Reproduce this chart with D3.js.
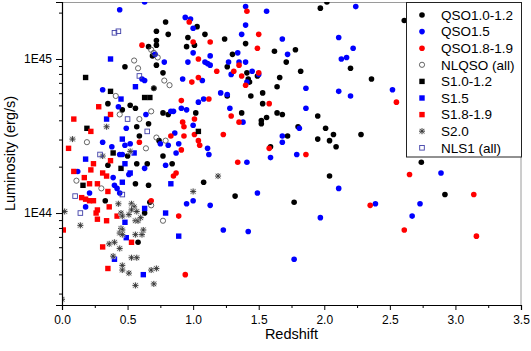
<!DOCTYPE html>
<html>
<head>
<meta charset="utf-8">
<script src="https://cdn.jsdelivr.net/npm/d3@7"></script>
<style>
  body { margin: 0; background: #fff; }
  text { font-family: Arial, "Liberation Sans", sans-serif; }
</style>
</head>
<body>
<svg id="chart" width="531" height="351"></svg>
<script>
// each point: [redshift, log10 luminosity in erg/s]
const qso10 = [
  [0.79,45.24],[0.72,45.18],[0.81,45.16],[0.72,45.12],[0.66,45.08],[0.72,45.09],[0.69,45.02],[0.48,44.95],
  [0.72,44.96],[0.77,44.91],[0.70,44.81],[0.35,44.71],[0.52,44.70],[0.56,44.68],[0.46,44.67],[0.77,44.65],
  [0.81,44.64],[0.57,44.56],[0.66,44.58],[0.59,44.50],[1.03,45.21],[1.09,45.16],[0.96,45.14],[1.24,45.13],
  [1.01,45.09],[0.95,45.08],[1.40,45.10],[1.30,45.03],[1.26,44.95],[1.41,44.91],[1.49,44.89],[1.42,44.87],
  [1.43,44.85],[1.26,44.76],[1.44,44.76],[1.02,44.65],[1.37,44.65],[0.74,44.47],[2.02,45.37],[1.97,45.33],
  [1.62,45.05],[1.78,45.06],[1.71,44.98],[2.20,44.94],[1.82,44.92],[2.36,44.87],[1.66,44.88],[1.64,44.82],
  [1.53,44.78],[1.53,44.71],[1.64,44.65],[1.68,44.64],[1.56,44.62],[1.52,44.60],[1.52,44.58],[1.95,44.63],
  [1.80,44.56],[2.01,44.55],[2.07,44.51],[1.95,44.48],[2.04,44.47],[2.09,44.43],[2.28,44.51],[1.72,44.50],
  [1.59,44.43],[2.61,45.25],[2.74,44.33],[2.92,44.12],[0.50,44.37],[0.77,44.37],[0.35,44.31],[0.57,44.32],
  [0.65,44.32],[0.84,44.32],[0.56,44.19],[0.66,44.18],[1.08,44.20],[0.33,44.08],[0.67,44.07],[0.63,44.00],
  [0.58,43.81],[2.04,44.24],[1.32,44.11],[1.77,44.07]
];
const qso15 = [
  [0.44,45.32],[0.63,45.37],[0.31,44.80],[0.61,44.87],[0.63,44.86],[0.49,44.55],[0.64,44.64],[0.43,44.69],
  [0.31,44.46],[0.38,44.43],[1.40,45.34],[0.94,45.27],[0.98,45.26],[1.00,45.20],[1.40,45.22],[1.37,45.16],
  [0.71,45.03],[1.00,45.04],[1.13,45.02],[1.34,45.04],[0.96,44.98],[0.78,44.98],[1.09,44.98],[1.11,44.97],
  [1.13,44.96],[1.27,44.98],[1.35,44.98],[1.40,44.98],[1.29,44.90],[1.45,44.92],[0.92,44.87],[1.07,44.86],
  [1.41,44.85],[1.21,44.78],[1.26,44.77],[1.04,44.72],[1.08,44.74],[1.28,44.68],[0.91,44.68],[0.95,44.67],
  [0.83,44.66],[0.85,44.66],[1.38,44.59],[1.00,44.57],[0.86,44.52],[0.75,44.45],[0.81,44.44],[0.89,44.45],
  [1.11,44.42],[1.50,44.90],[1.56,45.31],[2.24,45.34],[1.68,45.13],[1.72,45.03],[2.11,45.14],[2.22,45.07],
  [2.17,45.01],[2.13,45.00],[1.86,44.81],[2.11,44.79],[2.20,44.76],[1.86,44.68],[1.81,44.55],[1.68,44.50],
  [1.68,44.46],[2.52,44.80],[2.89,44.26],[2.73,44.06],[2.67,43.98],[0.44,44.38],[0.46,44.38],[0.48,44.44],
  [0.52,44.45],[1.12,44.38],[0.87,44.39],[0.63,44.29],[0.79,44.31],[0.39,44.23],[0.21,44.13],[0.42,44.16],
  [0.40,44.18],[0.44,44.13],[0.18,44.04],[0.95,44.06],[1.00,44.08],[1.13,44.05],[0.51,44.25],[1.59,44.36],
  [1.79,44.38],[1.41,44.33],[2.11,44.16],[1.49,44.13],[2.39,44.06],[1.97,43.97],[1.23,43.89],[1.42,43.88],
  [1.77,43.70],[0.12,44.27]
];
const qso18 = [
  [0.61,45.09],[0.59,44.46],[1.41,45.31],[0.97,45.24],[1.50,45.16],[1.13,45.11],[1.00,45.11],[1.49,45.07],
  [1.04,45.00],[1.31,44.92],[1.35,44.96],[1.37,44.89],[1.18,44.92],[1.50,44.91],[1.04,44.88],[0.99,44.85],
  [1.40,44.83],[0.91,44.73],[1.12,44.74],[1.29,44.63],[1.01,44.61],[1.35,44.59],[0.92,44.59],[0.93,44.56],
  [1.01,44.51],[0.93,44.50],[1.23,44.51],[0.83,44.50],[1.04,44.47],[1.05,44.44],[1.58,44.71],[1.58,44.42],
  [2.55,44.72],[2.65,44.25],[3.14,44.12],[2.61,43.89],[3.16,43.85],[0.91,44.41],[0.87,44.26],[0.85,44.24],
  [0.68,44.08],[0.89,43.98],[0.94,43.60],[1.86,44.38],[1.34,44.33],[2.35,44.05]
];
const nlqso = [
  [0.68,45.06],[0.70,45.04],[0.73,45.01],[0.55,44.99],[0.58,44.94],[0.78,44.86],[0.82,44.83],[0.70,44.81],
  [0.41,44.76],[0.44,44.64],[0.68,44.66],[0.59,44.61],[0.19,44.46],[0.72,44.49],[0.79,44.47],[0.64,44.42],
  [0.11,44.21],[0.30,44.16],[0.68,44.05],[0.77,43.95]
];
const s10 = [
  [0.18,44.88],[0.37,44.79],[0.63,44.75],[0.67,44.75],[0.19,44.55],[1.04,44.53],[0.39,44.39],[0.45,44.29],
  [0.16,44.18]
];
const s15 = [
  [0.37,45.00],[0.56,44.82],[0.45,44.74],[0.34,44.61],[0.46,44.48],[0.18,44.35],[0.48,44.32],[0.55,44.39],
  [0.52,44.26],[0.46,44.20],[0.83,44.19],[0.63,44.03],[0.79,44.00],[0.48,43.94],[0.89,43.85],[0.49,43.84],
  [0.40,43.70],[0.62,43.60]
];
const s18 = [
  [0.28,44.69],[0.37,44.64],[0.09,44.61],[0.22,44.53],[0.05,44.42],[0.24,44.32],[0.37,44.34],[0.09,44.27],
  [0.22,44.28],[0.17,44.23],[0.31,44.26],[0.34,44.24],[0.21,44.19],[0.27,44.19],[0.35,44.14],[0.15,44.10],
  [0.18,44.09],[0.21,44.08],[0.24,44.08],[0.36,44.04],[0.27,44.02],[0.26,44.00],[0.27,43.96],[0.34,43.95],
  [0.42,43.98],[0.01,43.89],[0.31,43.78],[0.35,43.64],[0.53,43.81]
];
const s20 = [
  [0.34,44.56],[0.08,44.48],[0.31,44.37],[0.52,44.40],[1.00,44.14],[1.19,44.24],[0.43,44.06],[0.53,44.06],
  [0.55,44.04],[0.53,44.02],[0.51,43.99],[0.57,44.01],[0.45,44.00],[0.02,44.01],[0.56,43.95],[0.58,43.95],
  [0.60,43.97],[0.46,43.98],[0.14,43.92],[0.45,43.90],[0.46,43.89],[0.44,43.87],[0.46,43.86],[0.62,43.89],
  [0.61,43.86],[0.56,43.86],[0.36,43.80],[0.40,43.81],[0.44,43.77],[0.39,43.72],[0.53,43.71],[0.57,43.71],
  [0.46,43.66],[0.46,43.63],[0.51,43.61],[0.68,43.63],[0.72,43.64],[0.56,43.53],[0.70,43.54],[0.00,43.44]
];
const nls1 = [
  [0.40,45.17],[0.43,45.18],[0.59,44.89],[0.50,44.61],[0.65,44.53],[0.29,44.38],[0.46,44.12],[0.10,44.11],
  [0.14,44.00]
];

const legendLabels = ["QSO1.0-1.2", "QSO1.5", "QSO1.8-1.9", "NLQSO (all)", "S1.0-1.2", "S1.5", "S1.8-1.9", "S2.0", "NLS1 (all)"];
const xTicks = [0, 0.5, 1, 1.5, 2, 2.5, 3, 3.5];
const xMinorTicks = [0.25, 0.75, 1.25, 1.75, 2.25, 2.75, 3.25];
const yTicks = [1e44, 1e45];
const yTickLabels = ["1E44", "1E45"];

const margin = { top: 2, right: 10, bottom: 46, left: 62 };
const width = 531 - margin.left - margin.right;
const height = 351 - margin.top - margin.bottom;

const svg = d3.select("#chart");
const g = svg.append("g").attr("transform", `translate(${margin.left},${margin.top})`);

const xScale = d3.scaleLinear().domain([0, 3.5]).range([0, width]);
const yScale = d3.scaleLog().domain([Math.pow(10, 43.403), Math.pow(10, 45.37)]).range([height, 0]);

svg.append("defs").append("clipPath").attr("id", "plotclip")
  .append("rect").attr("x", 0).attr("y", 0).attr("width", width).attr("height", height);

// frame (top / right)
g.append("path")
  .attr("d", `M0,0.5H${width}V${height}`)
  .attr("fill", "none").attr("stroke", "#9a9a9a").attr("stroke-width", 1);

// symbols
const star = "M-3,0H3M0,-3V3M-2.2,-2.2L2.2,2.2M-2.2,2.2L2.2,-2.2";
function drawSymbol(sel, kind) {
  if (kind.shape === "circle") {
    sel.append("circle").attr("r", kind.open ? 2.6 : 2.8)
      .attr("fill", kind.open ? "none" : kind.color)
      .attr("stroke", kind.open ? kind.color : "none")
      .attr("stroke-width", 0.9);
  } else if (kind.shape === "square") {
    const s = kind.open ? 4.6 : 5.4;
    sel.append("rect").attr("x", -s / 2).attr("y", -s / 2).attr("width", s).attr("height", s)
      .attr("fill", kind.open ? "none" : kind.color)
      .attr("stroke", kind.open ? kind.color : "none")
      .attr("stroke-width", 0.9);
  } else {
    sel.append("rect").attr("x", -3).attr("y", -3).attr("width", 6).attr("height", 6)
      .attr("fill", "#d8d8d8").attr("opacity", 0.6);
    sel.append("path").attr("d", star).attr("stroke", "#333").attr("stroke-width", 0.9).attr("fill", "none");
  }
}

const series = [
  { data: qso10, shape: "circle", color: "#000" },
  { data: qso15, shape: "circle", color: "#0000ff" },
  { data: qso18, shape: "circle", color: "#ff0000" },
  { data: nlqso, shape: "circle", color: "#555", open: true },
  { data: s10, shape: "square", color: "#000" },
  { data: s15, shape: "square", color: "#0000ff" },
  { data: s18, shape: "square", color: "#ff0000" },
  { data: s20, shape: "star", color: "#333" },
  { data: nls1, shape: "square", color: "#4040a8", open: true },
];

const plot = g.append("g").attr("clip-path", "url(#plotclip)");
series.forEach((s) => {
  plot.append("g").selectAll("g").data(s.data).join("g")
    .attr("transform", (d) => `translate(${xScale(d[0])},${yScale(Math.pow(10, d[1]))})`)
    .each(function () { drawSymbol(d3.select(this), s); });
});

// axes
const xAxis = g.append("g")
  .attr("transform", `translate(0,${height})`)
  .call(d3.axisBottom(xScale).tickValues(xTicks).tickSize(5).tickPadding(5).tickFormat(d3.format(".1f")));
g.append("g")
  .attr("transform", `translate(0,${height})`)
  .call(d3.axisBottom(xScale).tickValues(xMinorTicks).tickSize(3).tickFormat(""))
  .select(".domain").remove();

const yMinor = yScale.ticks().filter((v) => yTicks.indexOf(v) < 0);
const yAxis = g.append("g")
  .call(d3.axisLeft(yScale).tickValues(yTicks).tickSize(6).tickPadding(4)
    .tickFormat((d, i) => yTickLabels[i]));
g.append("g")
  .call(d3.axisLeft(yScale).tickValues(yMinor).tickSize(3).tickFormat(""))
  .select(".domain").remove();

g.selectAll(".domain").attr("stroke", "#000").attr("stroke-width", 1.2);
g.selectAll(".tick line").attr("stroke", "#000");
g.selectAll(".tick text").attr("font-family", "Arial, 'Liberation Sans', sans-serif")
  .attr("font-size", 12).attr("fill", "#000");

// axis titles
svg.append("text")
  .attr("x", margin.left + width / 2).attr("y", 339)
  .attr("text-anchor", "middle").attr("font-size", 14.5)
  .text("Redshift");
svg.append("text")
  .attr("transform", `translate(15,${margin.top + height / 2}) rotate(-90)`)
  .attr("text-anchor", "middle").attr("font-size", 14.5)
  .text("Luminosity (erg/s)");

// legend
const legend = svg.append("g");
legend.append("rect")
  .attr("x", 406.5).attr("y", 2.5).attr("width", 115).attr("height", 154.5)
  .attr("fill", "#fff").attr("stroke", "#222").attr("stroke-width", 1);
series.forEach((s, i) => {
  const row = legend.append("g").attr("transform", `translate(422,${15 + i * 16.6})`);
  drawSymbol(row, s);
  row.append("text").attr("x", 19).attr("dy", "0.35em").attr("font-size", 13.5)
    .text(legendLabels[i]);
});
</script>
</body>
</html>
